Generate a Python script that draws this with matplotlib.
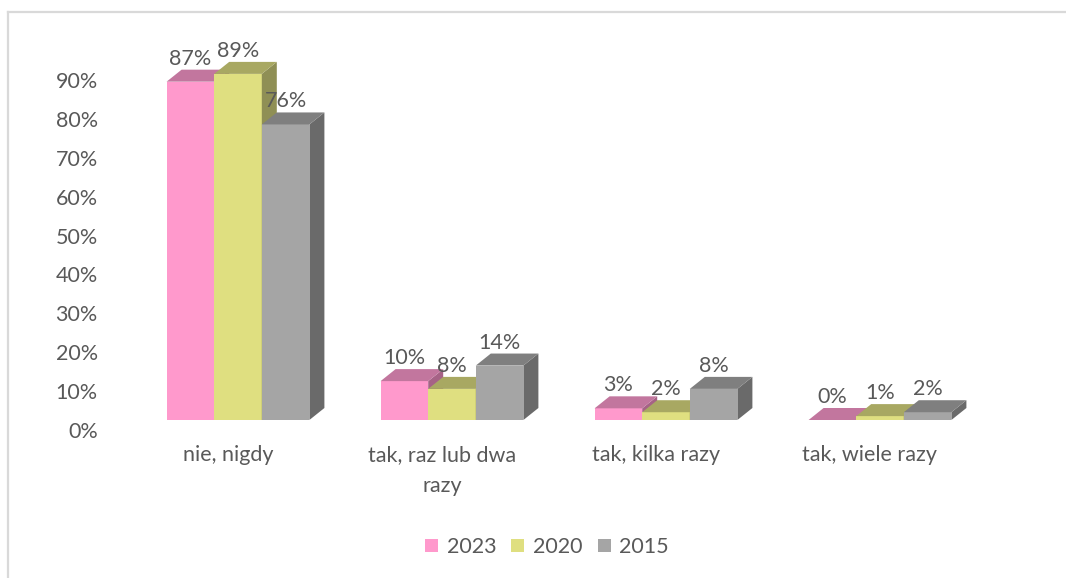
import matplotlib
matplotlib.use("Agg")
import matplotlib.pyplot as plt
from matplotlib.patches import Polygon, Rectangle
from matplotlib.lines import Line2D
from matplotlib.transforms import ScaledTranslation
import numpy as np

plt.rcParams['font.family'] = ['Lato', 'DejaVu Sans']

categories = ["nie, nigdy", "tak, raz lub dwa\nrazy", "tak, kilka razy", "tak, wiele razy"]
series_names = ["2023", "2020", "2015"]
values_2023 = [87, 10, 3, 0]
values_2020 = [89, 8, 2, 1]
values_2015 = [76, 14, 8, 2]
series_values = [values_2023, values_2020, values_2015]
yticks = [0, 10, 20, 30, 40, 50, 60, 70, 80, 90]

front_colors = ["#FF99CC", "#DFDF80", "#A5A5A5"]
top_colors = ["#C2769E", "#A8A862", "#7F7F7F"]
side_colors = ["#A66286", "#8F8F55", "#6A6A6A"]
text_color = "#595959"

W, H, DPI = 1066, 578, 100
fig = plt.figure(figsize=(W / DPI, H / DPI), dpi=DPI)

ax_left, ax_right = 131, 987
ax_base, ax_top = 420, 70
ax = fig.add_axes([ax_left / W, (H - ax_base) / H, (ax_right - ax_left) / W, (ax_base - ax_top) / H])
ax.set_xlim(-0.5, len(categories) - 0.5)
ax.set_ylim(0, 90)
for s in ax.spines.values():
    s.set_visible(False)

# depth of the pseudo-3D boxes, in pixels -> data units
DEPTH_X_PX, DEPTH_Y_PX = 15, 12
x_per_px = (len(categories)) / (ax_right - ax_left)
y_per_px = 90 / (ax_base - ax_top)
ddx = DEPTH_X_PX * x_per_px
ddy = DEPTH_Y_PX * y_per_px

bar_w = 47.6 / (ax_right - ax_left) * len(categories)
n = len(series_names)
xs = np.arange(len(categories))

for gi in range(len(categories)):
    for si in range(n):
        v = series_values[si][gi]
        x0 = xs[gi] + (si - (n - 1) / 2) * bar_w - bar_w / 2
        x1 = x0 + bar_w
        # front
        if v > 0:
            ax.add_patch(Rectangle((x0, 0), bar_w, v, facecolor=front_colors[si],
                                   edgecolor='none', clip_on=False, zorder=2))
        # side
        ax.add_patch(Polygon([(x1, 0), (x1 + ddx, ddy), (x1 + ddx, v + ddy), (x1, v)],
                             closed=True, facecolor=side_colors[si], edgecolor='none',
                             clip_on=False, zorder=2))
        # top
        ax.add_patch(Polygon([(x0, v), (x1, v), (x1 + ddx, v + ddy), (x0 + ddx, v + ddy)],
                             closed=True, facecolor=top_colors[si], edgecolor='none',
                             clip_on=False, zorder=2))
        ax.annotate(f"{v}%", xy=(x0 + bar_w / 2, v + ddy), xytext=(0, 5),
                    textcoords='offset pixels', ha='center', va='baseline',
                    fontsize=15.5, color=text_color, zorder=5, annotation_clip=False)

ax.set_yticks(yticks)
ax.set_yticklabels([f"{t}%" for t in yticks])
ax.set_xticks(xs)
ax.set_xticklabels(categories)
ax.tick_params(axis='y', length=0, pad=24, labelsize=15.5, labelcolor=text_color)
ax.tick_params(axis='x', length=0, pad=18, labelsize=15.5, labelcolor=text_color)
for lab in ax.get_xticklabels():
    lab.set_linespacing(1.7)

yoff = ScaledTranslation(0, -10 / DPI, fig.dpi_scale_trans)
for lab in ax.get_yticklabels():
    lab.set_transform(lab.get_transform() + yoff)
xoff = ScaledTranslation(-10 / DPI, 0, fig.dpi_scale_trans)
for lab in ax.get_xticklabels():
    lab.set_transform(lab.get_transform() + xoff)

handles = [Rectangle((0, 0), 1, 1, facecolor=c, edgecolor='none') for c in front_colors]
fig.legend(handles, series_names, loc='center', bbox_to_anchor=(547 / W, 1 - 547 / H),
           ncol=3, frameon=False, fontsize=15.5, labelcolor=text_color,
           handlelength=0.6, handleheight=0.6, handletextpad=0.4, columnspacing=0.7)

# outer frame (top and left edges visible)
fig.add_artist(Line2D([8 / W, 1.0], [1 - 12 / H, 1 - 12 / H], transform=fig.transFigure,
                      color="#D9D9D9", linewidth=1.6))
fig.add_artist(Line2D([8 / W, 8 / W], [1 - 12 / H, 0.0], transform=fig.transFigure,
                      color="#D9D9D9", linewidth=1.6))

fig.savefig("out.png", dpi=DPI)
